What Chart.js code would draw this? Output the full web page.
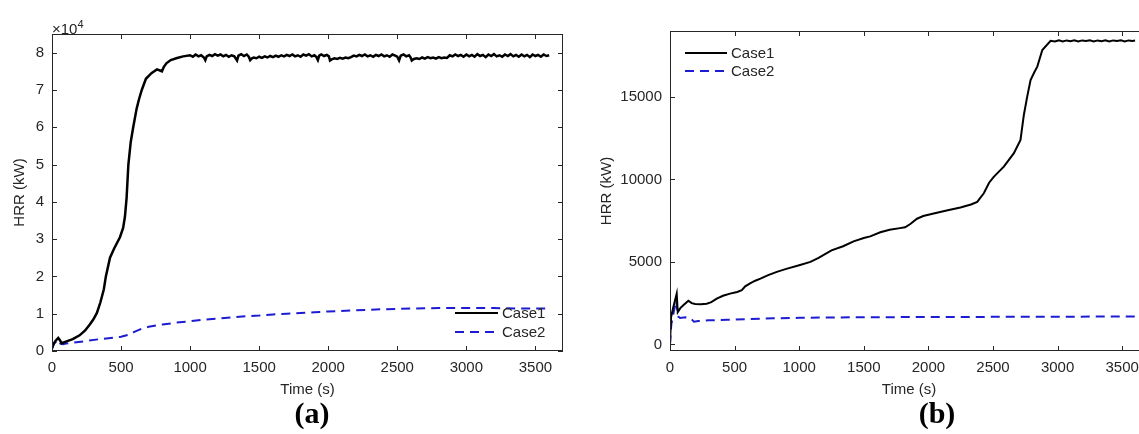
<!DOCTYPE html>
<html>
<head>
<meta charset="utf-8">
<script src="https://cdn.jsdelivr.net/npm/chart.js@4.4.1/dist/chart.umd.min.js"></script>
<style>
  html, body { margin: 0; padding: 0; background: #fff; overflow: hidden; width: 1139px; height: 434px; position: relative; }
  canvas { position: absolute; top: 0; }
  #chartA { left: 0; }
  #chartB { left: 590px; }
  .tag { position: absolute; font: bold 30px "Liberation Serif", "Times New Roman", serif; color: #000; transform: translate(-50%, -50%); line-height: 1; }
  .exp { position: absolute; left: 52px; top: 16px; font: 15px "Liberation Sans", Arial, sans-serif; color: #262626; line-height: 16px; }
  .exp sup { font-size: 11px; vertical-align: 6px; }
</style>
</head>
<body>
<canvas id="chartA" width="575" height="403"></canvas>
<canvas id="chartB" width="570" height="403"></canvas>
<div class="exp">&times;10<sup>4</sup></div>
<div class="tag" style="left:312px; top:413px;">(a)</div>
<div class="tag" style="left:937px; top:413px;">(b)</div>
<script>
/* ---- tick values ---- */
const timeTicks = [0, 500, 1000, 1500, 2000, 2500, 3000, 3500];
const aHrrTicks = [0, 1, 2, 3, 4, 5, 6, 7, 8];
const bHrrTicks = [0, 5000, 10000, 15000];

/* ---- data: panel (a), HRR in 10^4 kW ---- */
const aTime1 = [0,10,25,45,55,70,100,150,200,240,
  275,300,325,350,375,390,420,450,492,515,
  528,540,553,570,588,613,630,650,680,720,
  760,796,810,830,860,900,950,1000,1020,1040,
  1060,1080,1100,1110,1120,1140,1160,1180,1200,1220,
  1240,1260,1280,1300,1320,1340,1350,1370,1390,1410,
  1425,1435,1445,1460,1480,1500,1520,1540,1560,1580,
  1600,1620,1640,1660,1680,1700,1720,1740,1760,1780,
  1800,1820,1840,1860,1880,1900,1915,1925,1935,1950,
  1970,1990,2005,2013,2025,2045,2065,2085,2105,2125,
  2145,2165,2185,2205,2225,2245,2265,2285,2305,2325,
  2345,2365,2385,2405,2425,2445,2465,2485,2500,2513,
  2525,2545,2565,2585,2595,2605,2620,2640,2660,2680,
  2700,2720,2740,2760,2780,2800,2820,2840,2860,2880,
  2900,2920,2940,2960,2980,3000,3020,3040,3060,3080,
  3100,3120,3140,3160,3180,3200,3220,3240,3260,3280,
  3300,3320,3340,3360,3380,3400,3420,3440,3460,3480,
  3500,3520,3540,3560,3580,3600];
const aCase1 = [0.08,0.18,0.27,0.35,0.30,0.21,0.25,0.32,0.42,0.55,
  0.72,0.85,1.02,1.30,1.65,2.00,2.50,2.75,3.05,3.30,
  3.60,4.10,5.00,5.60,6.00,6.50,6.75,7.00,7.30,7.45,
  7.55,7.50,7.62,7.72,7.80,7.85,7.90,7.93,7.89,7.95,
  7.90,7.93,7.87,7.80,7.90,7.94,7.91,7.96,7.92,7.95,
  7.90,7.94,7.89,7.93,7.90,7.79,7.92,7.96,7.91,7.95,
  7.89,7.80,7.84,7.87,7.85,7.89,7.86,7.90,7.87,7.91,
  7.88,7.92,7.89,7.93,7.90,7.94,7.91,7.95,7.90,7.93,
  7.89,7.95,7.92,7.96,7.90,7.93,7.88,7.80,7.92,7.95,
  7.91,7.94,7.90,7.79,7.82,7.85,7.83,7.86,7.84,7.87,
  7.85,7.88,7.92,7.90,7.94,7.91,7.95,7.90,7.93,7.89,
  7.94,7.91,7.95,7.90,7.93,7.89,7.95,7.92,7.89,7.79,
  7.92,7.95,7.90,7.93,7.88,7.79,7.83,7.85,7.83,7.87,
  7.84,7.88,7.85,7.87,7.84,7.88,7.85,7.87,7.86,7.93,
  7.90,7.95,7.91,7.94,7.89,7.95,7.90,7.94,7.89,7.96,
  7.91,7.94,7.88,7.95,7.91,7.96,7.90,7.93,7.89,7.95,
  7.91,7.96,7.90,7.94,7.89,7.95,7.90,7.94,7.88,7.95,
  7.91,7.94,7.89,7.95,7.91,7.93];
const aTime2 = [0,15,45,60,80,100,150,250,350,450,
  500,550,600,650,700,800,900,1000,1100,1200,
  1300,1400,1500,1600,1700,1800,1900,2000,2200,2400,
  2600,2800,3000,3200,3400,3600];
const aCase2 = [0.05,0.20,0.30,0.20,0.18,0.20,0.22,0.27,0.32,0.36,
  0.38,0.43,0.52,0.60,0.65,0.71,0.76,0.80,0.84,0.87,
  0.90,0.93,0.95,0.98,1.00,1.02,1.04,1.06,1.09,1.12,
  1.14,1.15,1.15,1.15,1.14,1.14];

/* ---- data: panel (b), HRR in kW ---- */
const bTime1 = [0,8,26,52,60,80,103,142,168,194,
  240,284,320,362,410,465,520,556,582,620,
  660,700,760,827,900,1000,1087,1150,1250,1340,
  1421,1500,1550,1628,1700,1780,1820,1860,1912,1960,
  2041,2150,2248,2330,2378,2429,2470,2506,2584,2662,
  2713,2739,2765,2791,2820,2843,2882,2946,2980,3010,
  3040,3070,3100,3130,3160,3190,3220,3250,3280,3310,
  3340,3370,3400,3430,3460,3490,3520,3550,3580,3600];
const bCase1 = [0,1650,2270,3080,1960,2200,2370,2650,2500,2450,
  2430,2470,2560,2770,2950,3080,3180,3290,3520,3700,
  3860,3990,4200,4400,4580,4800,5000,5250,5700,5950,
  6250,6450,6550,6800,6950,7050,7100,7300,7620,7780,
  7930,8130,8300,8480,8640,9160,9800,10160,10780,11590,
  12400,13910,15020,16030,16500,16840,17850,18410,18360,18440,
  18370,18430,18380,18440,18360,18430,18390,18440,18370,18430,
  18380,18440,18360,18430,18390,18440,18370,18430,18390,18420];
const bTime2 = [0,10,30,48,62,78,120,150,170,185,
  220,300,440,600,800,1000,1200,1600,2000,2500,
  3000,3600];
const bCase2 = [0,1200,2000,2650,1700,1600,1640,1620,1500,1380,
  1420,1460,1490,1530,1580,1610,1630,1650,1660,1670,
  1680,1690];

const seriesNames = ['Case1', 'Case2'];
const TXT = '#262626';
const FONT = { family: '"Liberation Sans", Arial, sans-serif', size: 15 };

function pts(times, vals) {
  return times.map((t, i) => ({ x: t, y: vals[i] }));
}

/* MATLAB-style box with inward ticks, plus an in-plot legend */
const boxPlugin = {
  id: 'box',
  afterDatasetsDraw(chart, args, opts) {
    const { ctx, chartArea: a, scales: { x, y } } = chart;
    ctx.save();
    ctx.strokeStyle = TXT;
    ctx.lineWidth = 1;
    ctx.strokeRect(Math.round(a.left) + .5, Math.round(a.top) + .5,
      Math.round(a.width) - 1, Math.round(a.height) - 1);
    ctx.beginPath();
    x.ticks.forEach(t => {
      const px = Math.round(x.getPixelForValue(t.value)) + .5;
      ctx.moveTo(px, a.bottom); ctx.lineTo(px, a.bottom - 5);
      ctx.moveTo(px, a.top); ctx.lineTo(px, a.top + 5);
    });
    y.ticks.forEach(t => {
      const py = Math.round(y.getPixelForValue(t.value)) + .5;
      ctx.moveTo(a.left, py); ctx.lineTo(a.left + 5, py);
      ctx.moveTo(a.right, py); ctx.lineTo(a.right - 5, py);
    });
    ctx.stroke();

    // legend
    const lg = opts.legend;
    ctx.font = FONT.size + 'px ' + FONT.family;
    ctx.textBaseline = 'middle';
    chart.data.datasets.forEach((ds, i) => {
      const ly = lg.y + i * lg.gap;
      ctx.strokeStyle = ds.borderColor;
      ctx.lineWidth = 2;
      ctx.setLineDash(ds.borderDash || []);
      ctx.beginPath();
      ctx.moveTo(lg.x, ly); ctx.lineTo(lg.x + lg.len, ly);
      ctx.stroke();
      ctx.setLineDash([]);
      ctx.fillStyle = TXT;
      ctx.fillText(ds.label, lg.x + lg.len + 4, ly + 1);
    });
    ctx.restore();
  }
};

function makeChart(id, d1, d2, xr, yr, yTicks, pad, yW, yPad, legend, w1) {
  return new Chart(document.getElementById(id), {
    type: 'line',
    data: { datasets: [
      { label: seriesNames[0], data: d1, borderColor: '#000000', borderWidth: w1,
        pointRadius: 0, tension: 0 },
      { label: seriesNames[1], data: d2, borderColor: '#1c1cd2', borderWidth: 2,
        borderDash: [9, 6], pointRadius: 0, tension: 0 }
    ]},
    options: {
      responsive: false, animation: false,
      layout: { padding: pad },
      plugins: { legend: { display: false }, tooltip: { enabled: false }, box: { legend } },
      scales: {
        x: { type: 'linear', min: xr[0], max: xr[1],
          grid: { display: false, drawTicks: false }, border: { display: false },
          ticks: { autoSkip: false, color: TXT, font: FONT, padding: 8,
            maxRotation: 0, callback: v => String(v) },
          afterBuildTicks: s => { s.ticks = timeTicks.map(v => ({ value: v })); },
          title: { display: true, text: 'Time (s)', color: TXT, font: FONT, padding: 4 },
          afterFit: s => { s.height = 52; } },
        y: { type: 'linear', min: yr[0], max: yr[1],
          grid: { display: false, drawTicks: false }, border: { display: false },
          ticks: { autoSkip: false, color: TXT, font: FONT, padding: 8,
            callback: v => String(v) },
          afterBuildTicks: s => { s.ticks = yTicks.map(v => ({ value: v })); },
          title: { display: true, text: 'HRR (kW)', color: TXT, font: FONT, padding: yPad },
          afterFit: s => { s.width = yW; } }
      }
    },
    plugins: [boxPlugin]
  });
}

makeChart('chartA', pts(aTime1, aCase1), pts(aTime2, aCase2),
  [0, 3700], [0, 8.5], aHrrTicks, { top: 34, right: 12, left: 0, bottom: 0 }, 52, 11,
  { x: 455, y: 313, gap: 19, len: 43 }, 2.5);

makeChart('chartB', pts(bTime1, bCase1), pts(bTime2, bCase2),
  [0, 3700], [-400, 19000], bHrrTicks, { top: 31, right: 12, left: 0, bottom: 0 }, 80, 8,
  { x: 95, y: 53, gap: 18, len: 42 }, 2);
</script>
</body>
</html>
